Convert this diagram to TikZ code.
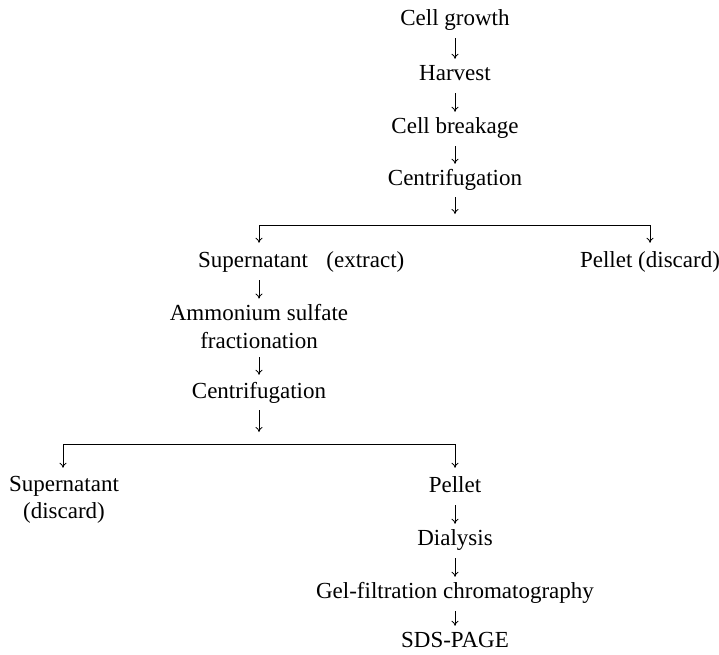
\documentclass[tikz,border=0pt]{standalone}
\usepackage{fontspec}
\setmainfont{Liberation Serif}
\usetikzlibrary{arrows.meta}
\begin{document}
\begin{tikzpicture}[x=1pt,y=-1pt,
  lbl/.style={font=\fontsize{23}{27}\selectfont, inner sep=0pt, text height=15pt, text depth=5pt},
  lblm/.style={font=\fontsize{23}{27}\selectfont, inner sep=0pt, align=center},
  arr/.style={-{To[length=5pt,width=7pt]}, line width=0.8pt, shorten <=8pt, shorten >=6pt},
  brk/.style={line width=0.8pt},
  brarr/.style={-{To[length=5pt,width=7pt]}, line width=0.8pt, shorten >=9pt}]
\useasboundingbox (0,0) rectangle (719,654);
% main column
\node[lbl] (cg) at (455,20) {Cell growth};
\node[lbl] (hv) at (455,75) {Harvest};
\node[lbl] (cb) at (455,128) {Cell breakage};
\node[lbl] (cen1) at (455,180) {Centrifugation};
\draw[arr] (cg) -- (hv);
\draw[arr] (hv) -- (cb);
\draw[arr] (cb) -- (cen1);
% first split
\coordinate (b1L) at (259,225);
\coordinate (b1R) at (650,225);
\coordinate (b1M) at (455,225);
\draw[arr, shorten <=7pt, shorten >=11pt] (cen1) -- (b1M);
\draw[brk] (b1L) -- (b1R);
\node[lbl, anchor=west] (sup1) at (198,262) {Supernatant\hspace{0.8em}(extract)};
\node[lbl] (pel1) at (650,262) {Pellet (discard)};
\draw[brarr] (b1L) -- (b1L |- sup1.north);
\draw[brarr] (b1R) -- (pel1.north);
% second column
\node[lblm] (amm) at (259,327) {Ammonium sulfate\\[1pt]fractionation};
\node[lbl] (cen2) at (259,393) {Centrifugation};
\draw[arr] (amm.north |- sup1.south) -- (amm.north);
\draw[arr, shorten <=8pt, shorten >=8pt] (amm) -- (cen2);
% second split
\coordinate (b2L) at (63,444);
\coordinate (b2R) at (455,444);
\coordinate (b2M) at (259,444);
\draw[arr, shorten <=7pt, shorten >=12pt] (cen2) -- (b2M);
\draw[brk] (b2L) -- (b2R);
\node[lblm] (sup2) at (64,500) {Supernatant\\(discard)};
\node[lbl] (pel2) at (455,487) {Pellet};
\draw[brarr] (b2L) -- (b2L |- pel2.north);
\draw[brarr] (b2R) -- (pel2.north);
% final column
\node[lbl] (dia) at (455,540) {Dialysis};
\node[lbl] (gel) at (455,593) {Gel-filtration chromatography};
\node[lbl] (sds) at (455,642) {SDS-PAGE};
\draw[arr] (pel2) -- (dia);
\draw[arr] (dia) -- (gel);
\draw[arr] (gel) -- (sds);
\end{tikzpicture}
\end{document}
